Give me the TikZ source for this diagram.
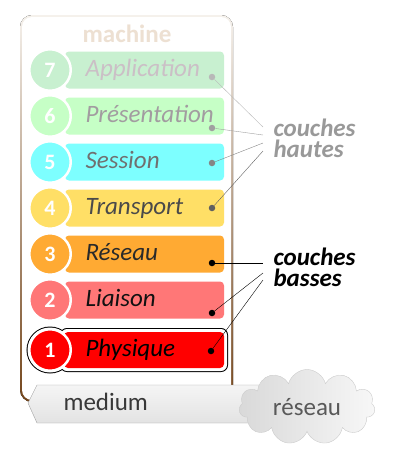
\documentclass[tikz,border=0pt]{standalone}
\usepackage{fontspec}
\setmainfont{Carlito}
\usetikzlibrary{shapes.symbols}

% layer colours
\definecolor{boxtop}{HTML}{F5F1EC}
\definecolor{boxbot}{HTML}{74461C}
\definecolor{fseven}{HTML}{C8F0D0}
\definecolor{fsix}{HTML}{C6FFC6}
\definecolor{ffive}{HTML}{7DFFFF}
\definecolor{ffour}{HTML}{FFDF66}
\definecolor{fthree}{HTML}{FFAA33}
\definecolor{ftwo}{HTML}{FF7777}
\definecolor{fone}{HTML}{FF0000}
\definecolor{tseven}{HTML}{CBBFC6}
\definecolor{tsix}{HTML}{A29CA0}
\definecolor{tfive}{HTML}{707070}
\definecolor{tfour}{HTML}{4A4A4A}
\definecolor{tthree}{HTML}{2A2A2A}
\definecolor{ttwo}{HTML}{111111}
\definecolor{tone}{HTML}{000000}
\definecolor{lseven}{HTML}{B8B8B8}
\definecolor{lsix}{HTML}{A0A0A0}
\definecolor{lfive}{HTML}{858585}
\definecolor{lfour}{HTML}{606060}
\definecolor{lthree}{HTML}{000000}
\definecolor{ltwo}{HTML}{000000}
\definecolor{lone}{HTML}{000000}

\begin{document}
\begin{tikzpicture}[x=1pt,y=-1pt,
  layercirc/.style={circle,draw=white,line width=2.5pt,minimum size=41.5pt,inner sep=0pt,
    text=white,font=\fontsize{22}{22}\selectfont\bfseries},
  layertext/.style={anchor=base west,font=\fontsize{25}{25}\selectfont\itshape},
  pin/.style={circle,inner sep=0pt,minimum size=6.5pt},
  grouplabel/.style={anchor=base west,align=left,font=\fontsize{25}{21}\selectfont\bfseries\itshape}]

  \useasboundingbox (0,0) rectangle (403,456);

  % Machine frame
  \fill[top color=boxtop,bottom color=boxbot,rounded corners=12] (20,15) rectangle (233,402);
  \fill[white,rounded corners=10] (22,17) rectangle (231,400);
  \node[anchor=base,text=boxtop!85!brown,font=\fontsize{25}{25}\selectfont\bfseries] (machine) at (127,42) {machine};

  % Layers 7 to 2
  \foreach \n/\y/\dy/\name/\lbl in {7/70/77/seven/Application,6/116/128/six/Présentation,
      5/162/163/five/Session,4/208/208/four/Transport,3/254/263/three/Réseau,2/300/313/two/Liaison}
  {
    \fill[f\name,rounded corners=4] (65,\y-18.5) rectangle (224,\y+18.5);
    \node[layercirc,fill=f\name] (c\n) at (50,\y) {\n};
    \node[layertext,text=t\name] (l\n) at (82,\y+6) {\lbl};
    \node[pin,fill=l\name] (d\n) at (212,\dy) {};
  }

  % Layer 1
  \draw[black,line width=2pt,rounded corners=6] (61,329) rectangle (227,371);
  \draw[black,line width=2pt] (50,350) circle (22.5);
  \fill[white,rounded corners=6] (61,329) rectangle (227,371);
  \fill[white] (50,350) circle (22.5);
  \fill[fone,rounded corners=4] (64,332) rectangle (224,368);
  \node[layercirc,fill=fone] (c1) at (50,350) {1};
  \node[layertext,text=tone] (l1) at (82,356) {Physique};
  \node[pin,fill=lone] (d1) at (211,351) {};

  % Group labels
  \node[grouplabel,text=black!40] (hautes) at (270,157) {couches\\hautes};
  \node[grouplabel,text=black] (basses) at (270,286) {couches\\basses};
  \coordinate (h7) at (263,127);
  \coordinate (h6) at (263,135);
  \coordinate (h5) at (263,143);
  \coordinate (h4) at (263,151);
  \coordinate (b3) at (263,263);
  \coordinate (b2) at (263,273);
  \coordinate (b1) at (263,280);
  \draw[lseven] (d7) -- (h7);
  \draw[lsix] (d6) -- (h6);
  \draw[lfive] (d5) -- (h5);
  \draw[lfour] (d4) -- (h4);
  \draw[lthree] (d3) -- (b3);
  \draw[ltwo] (d2) -- (b2);
  \draw[lone] (d1) -- (b1);

  % Medium and network
  \draw[draw=black!37,top color=black!4,bottom color=black!11]
    (28,403) -- (37,385) -- (265,385) -- (265,423) -- (37,423) -- cycle;
  \node[anchor=base west,text=black!78,font=\fontsize{25}{25}\selectfont] (medium) at (60,410) {medium};
  \node[cloud,cloud puffs=11,aspect=1.8,minimum width=136pt,minimum height=75pt,inner sep=0pt,
    draw=black!20,left color=black!15,right color=black!3,text=black!65,
    font=\fontsize{25}{25}\selectfont] (reseau) at (307,407) {réseau};

\end{tikzpicture}
\end{document}
